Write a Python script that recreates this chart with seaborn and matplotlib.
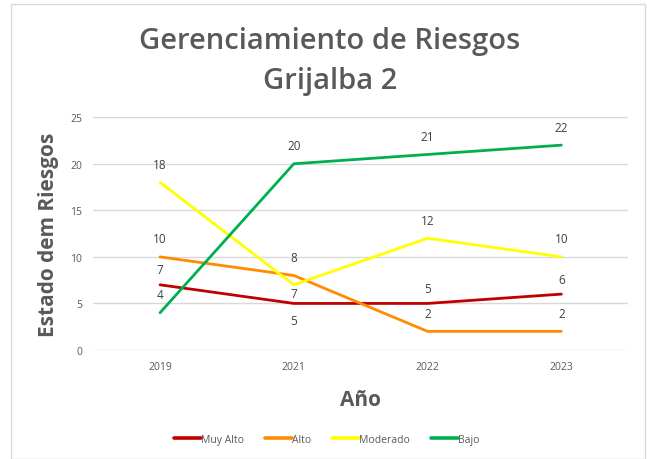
import matplotlib
matplotlib.use("Agg")
import matplotlib.pyplot as plt
import seaborn as sns
import pandas as pd
from matplotlib.patches import Rectangle

years = ["2019", "2021", "2022", "2023"]
muy_alto = [7, 5, 5, 6]
alto = [10, 8, 2, 2]
moderado = [18, 7, 12, 10]
bajo = [4, 20, 21, 22]
series_names = ["Muy Alto", "Alto", "Moderado", "Bajo"]
colors = ["#C00000", "#FF8C00", "#FFFF00", "#00B050"]

series_vals = [muy_alto, alto, moderado, bajo]
rows = []
for name, vals in zip(series_names, series_vals):
    for y, v in zip(years, vals):
        rows.append({"Año": y, "Valor": v, "Serie": name})
df = pd.DataFrame(rows)

sns.set_theme(style="white")
plt.rcParams['font.family'] = ['Open Sans', 'DejaVu Sans']

fig = plt.figure(figsize=(6.47, 4.60), dpi=100)
ax = fig.add_axes([0.144, 0.237, 0.827, 0.506])

sns.lineplot(data=df, x="Año", y="Valor", hue="Serie", hue_order=series_names,
             palette=colors, linewidth=2.0, ax=ax, sort=False, legend=True)

ax.set_xlim(-0.5, 3.5)
ax.set_ylim(0, 25)
ax.set_yticks([0, 5, 10, 15, 20, 25])
ax.yaxis.grid(True, color="#D9D9D9", linewidth=1)
ax.set_axisbelow(True)
for s in ax.spines.values():
    s.set_visible(False)
ax.tick_params(axis="both", labelsize=7.5, colors="#595959", length=0, pad=8)

# data labels: offsets in pixels (positive above)
offsets = {
    "Muy Alto": [15, -17, 15, 15],
    "Alto": [18, 18, 18, 18],
    "Moderado": [18, -9, 18, 18],
    "Bajo": [18, 18, 18, 18],
}
for name, vals in zip(series_names, series_vals):
    for i, v in enumerate(vals):
        ax.annotate(str(v), (i, v), xytext=(0, offsets[name][i]),
                    textcoords="offset pixels", ha="center", va="center",
                    fontsize=8.5, color="#404040")

ax.set_xlabel("Año", fontsize=15, fontweight="bold", color="#595959", labelpad=12)
ax.set_ylabel("Estado dem Riesgos", fontsize=15, fontweight="bold", color="#595959", labelpad=8)

fig.text(0.51, 0.910, "Gerenciamiento de Riesgos", ha="center", va="center",
         fontsize=21, fontweight="semibold", color="#595959")
fig.text(0.51, 0.822, "Grijalba 2", ha="center", va="center",
         fontsize=21, fontweight="semibold", color="#595959")

handles, labels = ax.get_legend_handles_labels()
for h in handles:
    h.set_linewidth(2.6)
ax.legend(handles, labels, loc="center", bbox_to_anchor=(0.505, 0.043),
          bbox_transform=fig.transFigure, ncol=4, frameon=False, fontsize=7.5,
          handlelength=2.6, handletextpad=0.0, columnspacing=2.0,
          labelcolor="#595959")

fig.patches.append(Rectangle((11 / 647, 0.0), (645 - 11) / 647, (460 - 4) / 460 - 0.002,
                             transform=fig.transFigure, fill=False,
                             edgecolor="#D9D9D9", linewidth=1))

fig.savefig("out.png", dpi=100)
